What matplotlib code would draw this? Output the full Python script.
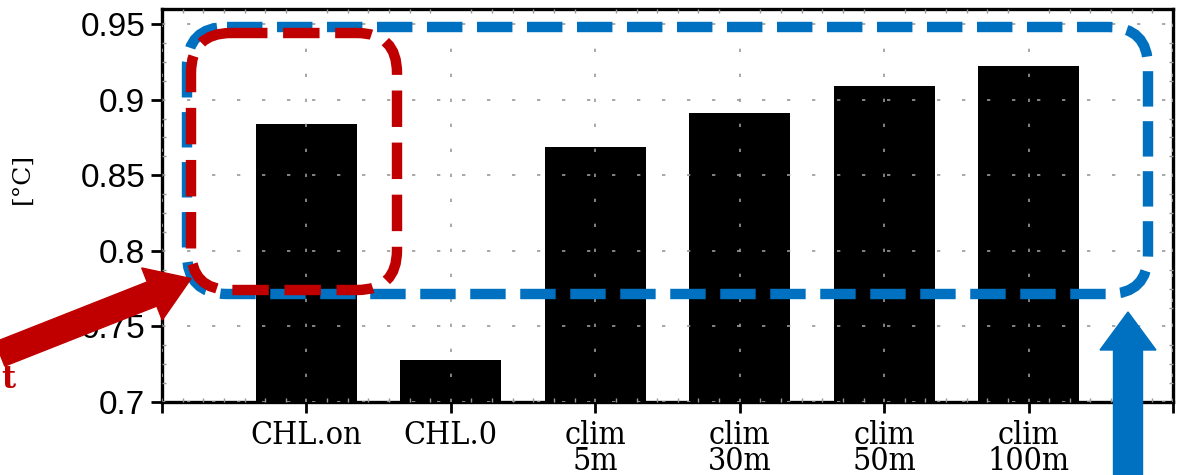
import matplotlib
matplotlib.use("Agg")
import matplotlib.pyplot as plt
from matplotlib.patches import FancyBboxPatch, FancyArrow
from matplotlib.ticker import MultipleLocator

# data
labels = ["CHL.on", "CHL.0", "clim\n5m", "clim\n30m", "clim\n50m", "clim\n100m"]
values = [0.884, 0.728, 0.869, 0.891, 0.909, 0.922]
yticks = [0.7, 0.75, 0.8, 0.85, 0.9, 0.95]
ytick_labels = ["0.7", "0.75", "0.8", "0.85", "0.9", "0.95"]

red = "#C00000"
blue = "#0070C0"

fig = plt.figure(figsize=(11.8, 4.75), dpi=100)
ax = fig.add_axes([162 / 1180, 1 - 402 / 475, 1011 / 1180, 393 / 475])

pos = list(range(1, len(values) + 1))
ax.bar(pos, values, width=0.7, color="black", zorder=1)

ax.set_xlim(0, 7)
ax.set_ylim(0.7, 0.96)
ax.set_xticks(range(0, 8))
ax.set_xticklabels([""] + labels + [""], family="DejaVu Serif", fontstretch="condensed",
                   fontsize=23, linespacing=0.8)
ax.set_yticks(yticks)
ax.set_yticklabels(ytick_labels, family="Liberation Sans", fontsize=24)
ax.yaxis.set_minor_locator(MultipleLocator(0.0125))
ax.xaxis.set_minor_locator(MultipleLocator(1 / 7))

ax.tick_params(axis="both", which="major", direction="out", length=8, width=2, color="black")
ax.tick_params(axis="x", which="major", pad=5)
ax.tick_params(axis="y", which="major", pad=4)
ax.tick_params(which="minor", direction="in", length=3, width=1, color="#999999",
               top=True, right=True)
for s in ax.spines.values():
    s.set_linewidth(2.4)

ax.set_axisbelow(False)
ax.grid(True, which="major", color="#999999", linewidth=1.2, linestyle=(0, (2, 13)), zorder=2)

ax.set_ylabel("[°C]", family="DejaVu Serif", fontsize=18)
ax.yaxis.set_label_coords(-0.127, 0.57)

# annotation overlay in pixel coordinates
ov = fig.add_axes([0, 0, 1, 1], facecolor="none")
ov.set_xlim(0, 1180)
ov.set_ylim(475, 0)
ov.axis("off")

blue_box = FancyBboxPatch((187 + 40, 27 + 40), 1148 - 187 - 80, 294 - 27 - 80,
                          boxstyle="round,pad=40", fill=False, edgecolor=blue,
                          linewidth=7.5, linestyle=(0, (3.4, 1.4)), zorder=3)
ov.add_patch(blue_box)
red_box = FancyBboxPatch((191 + 40, 33 + 40), 397 - 191 - 80, 290 - 33 - 80,
                         boxstyle="round,pad=40", fill=False, edgecolor=red,
                         linewidth=7.5, linestyle=(0, (3.5, 1.5)), zorder=4)
ov.add_patch(red_box)

ov.add_patch(FancyArrow(0, 354, 152, -60, width=26, head_width=56, head_length=42,
                        length_includes_head=False, color=red, zorder=5))
ov.add_patch(FancyArrow(1128, 480, 0, -130, width=29, head_width=56, head_length=38,
                        length_includes_head=False, color=blue, zorder=5))
ov.text(1, 380, "t", color=red, ha="left", va="center", fontsize=22,
        family="DejaVu Serif", fontweight="bold")

fig.savefig("out.png", dpi=100)
